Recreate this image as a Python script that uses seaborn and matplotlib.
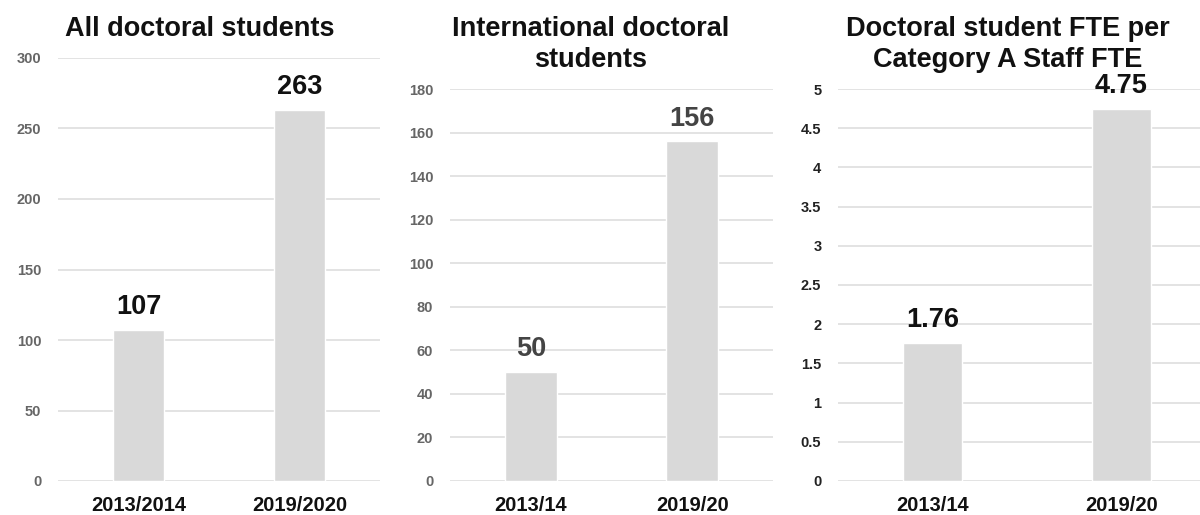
import matplotlib
matplotlib.use("Agg")
import matplotlib.pyplot as plt
import seaborn as sns
import pandas as pd

# Data
years_long = ["2013/2014", "2019/2020"]
years_short = ["2013/14", "2019/20"]
all_students = [107, 263]
intl_students = [50, 156]
fte_ratio = [1.76, 4.75]

sns.set_theme(style="white")
plt.rcParams["font.family"] = ["Liberation Sans", "DejaVu Sans"]
plt.rcParams["font.weight"] = "bold"

W, H = 1200, 515
fig = plt.figure(figsize=(W / 100, H / 100), dpi=100)

BAR = "#d9d9d9"
GRID = "#e3e3e3"
TITLE_SIZE = 19.5
VALUE_SIZE = 19.5


def px_axes(x0, x1, ytop, ybot=481):
    return fig.add_axes([x0 / W, 1 - ybot / H, (x1 - x0) / W, (ybot - ytop) / H])


panels = [
    dict(cats=years_long, vals=all_students, box=(58, 380, 58), ylim=300,
         ticks=[0, 50, 100, 150, 200, 250, 300], labels=None, width=0.32,
         tickcolor="#666666", valcolor="#111111", fmt="{:.0f}",
         title="All doctoral students", tx=200),
    dict(cats=years_short, vals=intl_students, box=(450, 773, 89), ylim=180,
         ticks=list(range(0, 181, 20)), labels=None, width=0.32,
         tickcolor="#666666", valcolor="#444444", fmt="{:.0f}",
         title="International doctoral\nstudents", tx=591),
    dict(cats=years_short, vals=fte_ratio, box=(838, 1216, 89), ylim=5,
         ticks=[0, 0.5, 1, 1.5, 2, 2.5, 3, 3.5, 4, 4.5, 5],
         labels=["0", "0.5", "1", "1.5", "2", "2.5", "3", "3.5", "4", "4.5", "5"],
         width=0.31, tickcolor="#222222", valcolor="#111111", fmt="{:.2f}",
         title="Doctoral student FTE per\nCategory A Staff FTE", tx=1008),
]

for p in panels:
    x0, x1, ytop = p["box"]
    ax = px_axes(x0, x1, ytop)
    df = pd.DataFrame({"year": p["cats"], "value": p["vals"]})
    sns.barplot(data=df, x="year", y="value", color=BAR, width=p["width"],
                saturation=1, ax=ax, zorder=3)
    ax.set_xlim(-0.5, 1.5)
    ax.set_ylim(0, p["ylim"])
    ax.set_yticks(p["ticks"])
    if p["labels"] is not None:
        ax.set_yticklabels(p["labels"])
    ax.yaxis.grid(True, color=GRID, linewidth=1.4, zorder=0)
    ax.xaxis.grid(False)
    ax.set_axisbelow(True)
    for s in ax.spines.values():
        s.set_visible(False)
    ax.tick_params(axis="y", length=0, pad=12, labelsize=10.5,
                   labelcolor=p["tickcolor"])
    ax.tick_params(axis="x", length=0, pad=11, labelsize=14.5,
                   labelcolor="#111111")
    for lab in ax.get_xticklabels() + ax.get_yticklabels():
        lab.set_fontweight("bold")
    ax.set_xlabel("")
    ax.set_ylabel("")
    for i, v in enumerate(p["vals"]):
        ax.annotate(p["fmt"].format(v), (i, v), xytext=(0, 7),
                    textcoords="offset points", ha="center", va="bottom",
                    fontsize=VALUE_SIZE, fontweight="bold", color=p["valcolor"])
    lines = p["title"].split("\n")
    for k, line in enumerate(lines):
        fig.text(p["tx"] / W, 1 - (36 + 31.5 * k) / H, line,
                 ha="center", va="baseline", fontsize=TITLE_SIZE,
                 fontweight="bold", color="#111111")

fig.savefig("out.png", dpi=100, facecolor="white")
